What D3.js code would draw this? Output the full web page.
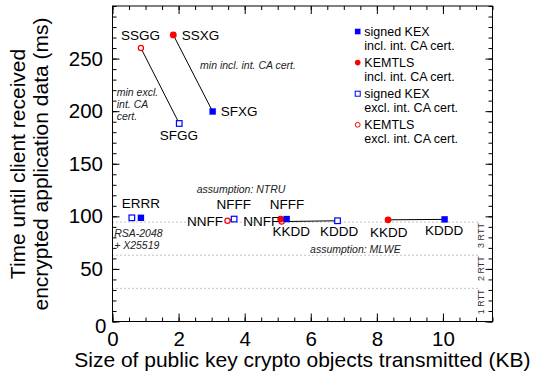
<!DOCTYPE html>
<html><head><meta charset="utf-8">
<script src="https://cdn.jsdelivr.net/npm/d3@7"></script>
<style>
html,body{margin:0;padding:0;background:#fff;}
svg{display:block;font-family:"Liberation Sans",Arial,Helvetica,sans-serif;}
</style></head>
<body>
<svg id="c" width="535" height="380"></svg>
<script>
// ---- data ----
const signedIncl = [
  {name:"SFXG", x:3.03, y:199.7},
  {name:"ERRR", x:0.86, y:98.6},
  {name:"NFFF", x:5.27, y:97.4},
  {name:"KDDD", x:10.05, y:97.1}
];
const kemtlsIncl = [
  {name:"SSXG", x:1.84, y:272.5},
  {name:"NNFF", x:5.09, y:97.4},
  {name:"KKDD", x:8.34, y:96.7}
];
const signedExcl = [
  {name:"SFGG", x:2.02, y:188.3},
  {name:"ERRR", x:0.585, y:98.6},
  {name:"NFFF", x:3.68, y:97.4},
  {name:"KDDD", x:6.81, y:95.8}
];
const kemtlsExcl = [
  {name:"SSGG", x:0.86, y:260.0},
  {name:"NNFF", x:3.48, y:95.8},
  {name:"KKDD", x:5.12, y:95.0}
];
// connected pairs: [KEMTLS point, signed KEX point]
const pairs = [
  [kemtlsExcl[0], signedExcl[0]],
  [kemtlsIncl[0], signedIncl[0]],
  [kemtlsExcl[1], signedExcl[2]],
  [kemtlsIncl[1], signedIncl[2]],
  [kemtlsExcl[2], signedExcl[3]],
  [kemtlsIncl[2], signedIncl[3]]
];
// point labels (anchor location in data units)
const pointLabels = [
  {text:"SSGG", x:0.85, y:268.1, anchor:"middle"},
  {text:"SSXG", x:2.094, y:268.1, anchor:"start"},
  {text:"SFXG", x:3.275, y:195.0, anchor:"start"},
  {text:"SFGG", x:2.01, y:172.2, anchor:"middle"},
  {text:"ERRR", x:0.86, y:107.8, anchor:"middle"},
  {text:"NFFF", x:3.67, y:107.1, anchor:"middle"},
  {text:"NNFF", x:2.80, y:91.0, anchor:"middle"},
  {text:"NNFF", x:3.96, y:91.0, anchor:"start"},
  {text:"NFFF", x:5.28, y:107.1, anchor:"middle"},
  {text:"KKDD", x:5.41, y:81.4, anchor:"middle"},
  {text:"KDDD", x:6.86, y:81.4, anchor:"middle"},
  {text:"KKDD", x:8.36, y:80.8, anchor:"middle"},
  {text:"KDDD", x:10.04, y:82.4, anchor:"middle"}
];
// italic notes (lines, start anchor, data units)
const notes = [
  {lines:["min incl. int. CA cert."], x:2.65, y:240.2},
  {lines:["min excl.","int. CA","cert."], x:0.13, y:214.8},
  {lines:["assumption: NTRU"], x:2.55, y:122.4},
  {lines:["RSA-2048","+ X25519"], x:0.05, y:80.8},
  {lines:["assumption: MLWE"], x:5.98, y:64.8}
];
const rttValues = [31.5, 63.0, 94.5];
const rttLabels = ["1 RTT", "2 RTT", "3 RTT"];
const xTicks = [0, 2, 4, 6, 8, 10];
const yTicks = [0, 50, 100, 150, 200, 250];
const legendItems = [
  {kind:"sq", filled:true,  color:"#0000ff", lines:["signed KEX","incl. int. CA cert."]},
  {kind:"ci", filled:true,  color:"#ff0000", lines:["KEMTLS","incl. int. CA cert."]},
  {kind:"sq", filled:false, color:"#0000ff", lines:["signed KEX","excl. int. CA cert."]},
  {kind:"ci", filled:false, color:"#ff0000", lines:["KEMTLS","excl. int. CA cert."]}
];
const xTitle = "Size of public key crypto objects transmitted (KB)";
const yTitle = ["Time until client received", "encrypted application data (ms)"];

// ---- layout ----
const L = 112.5, R = 492.5, T = 6, B = 321.5;
const x = d3.scaleLinear().domain([0, 11.5]).range([L, R]);
const y = d3.scaleLinear().domain([0, 300]).range([B, T]);
const svg = d3.select("#c");
const BLUE = "#0000ff", RED = "#ff0000";

// RTT dotted lines
svg.append("g").selectAll("line").data(rttValues).join("line")
  .attr("x1", x(0)).attr("x2", x(11.06))
  .attr("y1", d => y(d)).attr("y2", d => y(d))
  .attr("stroke", "#888").attr("stroke-width", 1).attr("stroke-dasharray", "1,3");
svg.append("g").selectAll("text").data(rttValues).join("text")
  .attr("transform", d => `translate(${x(11.25)},${y(d) + 1}) rotate(-90)`)
  .attr("text-anchor", "end").attr("font-size", 9).attr("fill", "#333")
  .text((d, i) => rttLabels[i]);

// axes
function styleAxis(g) {
  g.select(".domain").remove();
  g.selectAll(".tick line").attr("stroke", "#000");
  g.selectAll("text").attr("fill", "#000");
}
const minorX = d3.range(0, 11.51, 0.5);
const minorY = d3.range(0, 301, 10);
const fs = 20.5;
// bottom
svg.append("g").attr("transform", `translate(0,${B})`)
  .call(d3.axisBottom(x).tickValues(minorX).tickSize(-4).tickFormat("")).call(styleAxis);
svg.append("g").attr("transform", `translate(0,${B})`)
  .call(d3.axisBottom(x).tickValues(xTicks).tickSize(-8).tickPadding(10).tickFormat(d3.format("d")))
  .call(styleAxis)
  .call(g => g.selectAll("text").attr("font-size", fs).attr("font-family", "Liberation Sans, Arial, sans-serif"));
// top
svg.append("g").attr("transform", `translate(0,${T})`)
  .call(d3.axisTop(x).tickValues(minorX).tickSize(-4).tickFormat("")).call(styleAxis);
svg.append("g").attr("transform", `translate(0,${T})`)
  .call(d3.axisTop(x).tickValues(xTicks).tickSize(-8).tickFormat("")).call(styleAxis);
// left
svg.append("g").attr("transform", `translate(${L},0)`)
  .call(d3.axisLeft(y).tickValues(minorY).tickSize(-4).tickFormat("")).call(styleAxis);
svg.append("g").attr("transform", `translate(${L},0)`)
  .call(d3.axisLeft(y).tickValues(yTicks).tickSize(-7).tickPadding(9.5).tickFormat(d3.format("d")))
  .call(styleAxis)
  .call(g => g.selectAll("text").attr("font-size", fs).attr("font-family", "Liberation Sans, Arial, sans-serif"))
  .call(g => g.selectAll(".tick").filter(d => d === 0).select("text").attr("x", -6).attr("dy", "0.55em"));
// right
svg.append("g").attr("transform", `translate(${R},0)`)
  .call(d3.axisRight(y).tickValues(minorY).tickSize(-4).tickFormat("")).call(styleAxis);
svg.append("g").attr("transform", `translate(${R},0)`)
  .call(d3.axisRight(y).tickValues(yTicks).tickSize(-7).tickFormat("")).call(styleAxis);
// frame
svg.append("rect").attr("x", L).attr("y", T).attr("width", R - L).attr("height", B - T)
  .attr("fill", "none").attr("stroke", "#000").attr("stroke-width", 1);

// axis titles
svg.append("text").attr("x", 302.4).attr("y", 367).attr("text-anchor", "middle")
  .attr("font-size", 21).text(xTitle);
svg.append("g").selectAll("text").data(yTitle).join("text")
  .attr("transform", (d, i) => `translate(${i === 0 ? 25 : 48},164) rotate(-90)`)
  .attr("text-anchor", "middle").attr("font-size", 21).text(d => d);

// connecting lines
svg.append("g").selectAll("line").data(pairs).join("line")
  .attr("x1", d => x(d[0].x)).attr("y1", d => y(d[0].y))
  .attr("x2", d => x(d[1].x)).attr("y2", d => y(d[1].y))
  .attr("stroke", "#000").attr("stroke-width", 1);

// markers
function squares(data, filled, color, s) {
  svg.append("g").selectAll("rect").data(data).join("rect")
    .attr("x", d => x(d.x) - s / 2).attr("y", d => y(d.y) - s / 2)
    .attr("width", s).attr("height", s)
    .attr("fill", filled ? color : "#fff")
    .attr("stroke", filled ? "none" : color).attr("stroke-width", 1.2);
}
function circles(data, filled, color, r) {
  svg.append("g").selectAll("circle").data(data).join("circle")
    .attr("cx", d => x(d.x)).attr("cy", d => y(d.y)).attr("r", r)
    .attr("fill", filled ? color : "#fff")
    .attr("stroke", filled ? "none" : color).attr("stroke-width", 1.2);
}
circles(kemtlsExcl, false, RED, 2.6);
squares(signedExcl, false, BLUE, 5.6);
circles(kemtlsIncl, true, RED, 3.4);
squares(signedIncl, true, BLUE, 6.4);

// point labels
svg.append("g").selectAll("text").data(pointLabels).join("text")
  .attr("x", d => x(d.x)).attr("y", d => y(d.y))
  .attr("text-anchor", d => d.anchor).attr("font-size", 13.5).text(d => d.text);

// notes
const ng = svg.append("g").attr("font-style", "italic").attr("font-size", 10.5).attr("fill", "#222");
notes.forEach(n => {
  n.lines.forEach((t, i) => {
    ng.append("text").attr("x", x(n.x)).attr("y", y(n.y) + i * 12).text(t);
  });
});

// legend
const lg = svg.append("g");
legendItems.forEach((it, i) => {
  const cy = 31.5 + i * 31.1;
  if (it.kind === "sq") {
    const s = it.filled ? 5.6 : 5;
    lg.append("rect").attr("x", 357.7 - s / 2).attr("y", cy - s / 2).attr("width", s).attr("height", s)
      .attr("fill", it.filled ? it.color : "#fff").attr("stroke", it.filled ? "none" : it.color).attr("stroke-width", 1);
  } else {
    lg.append("circle").attr("cx", 357.7).attr("cy", cy).attr("r", it.filled ? 2.8 : 2.4)
      .attr("fill", it.filled ? it.color : "#fff").attr("stroke", it.filled ? "none" : it.color).attr("stroke-width", 1);
  }
  it.lines.forEach((t, j) => {
    lg.append("text").attr("x", 364.3).attr("y", cy + 4.6 + j * 14).attr("font-size", 12.5).text(t);
  });
});
</script>
</body></html>
